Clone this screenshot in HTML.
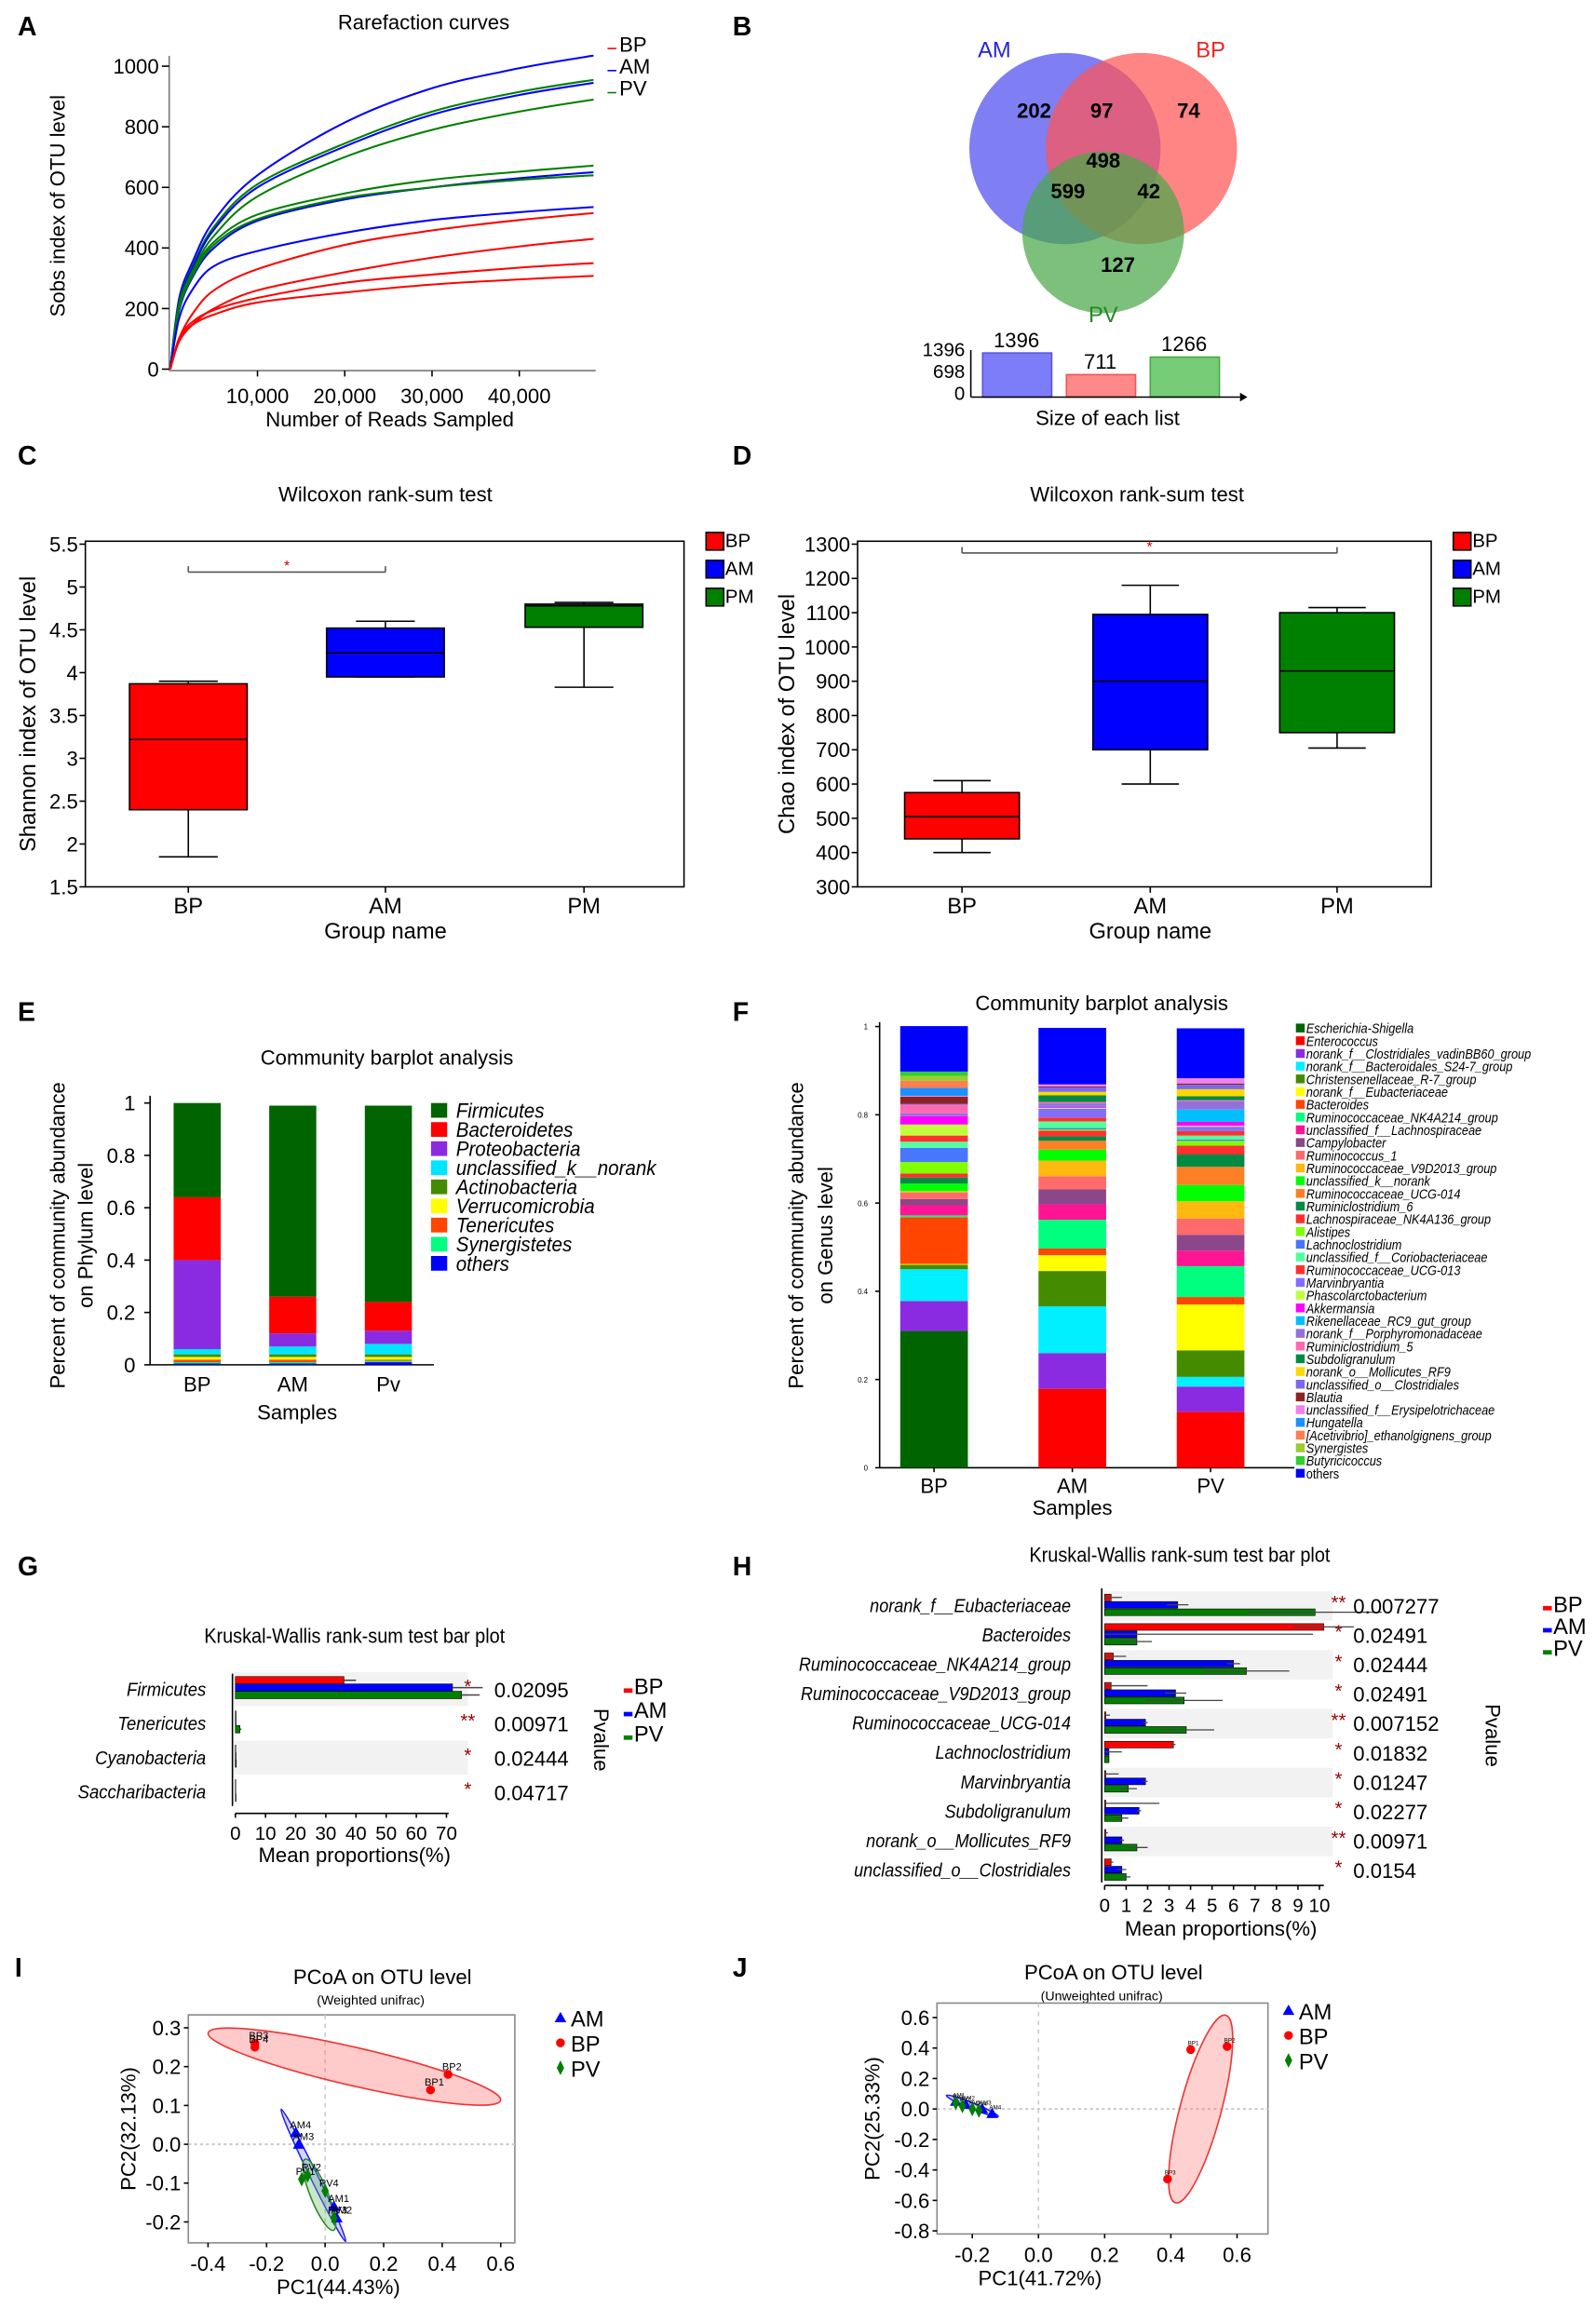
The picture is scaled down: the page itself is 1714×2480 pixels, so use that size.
<!DOCTYPE html>
<html><head><meta charset="utf-8">
<style>
html,body{margin:0;padding:0;background:#fff;}
svg{display:block;font-family:"Liberation Sans",Arial,sans-serif;}
</style></head>
<body>
<svg id="fig" xmlns="http://www.w3.org/2000/svg" width="1714" height="2480" viewBox="0 0 1085 1570"></svg>
<script>
// ---------- DATA ----------
// Panel A rarefaction
const rareDepths=[0,1000,2500,5000,10000,20000,30000,40000,48500];
const rareSeries=[
 {g:'AM',v:[0,230,350,490,640,814,927,993,1035]},
 {g:'PV',v:[0,220,335,470,610,745,850,915,955]},
 {g:'AM',v:[0,215,330,460,600,735,840,905,945]},
 {g:'PV',v:[0,210,320,440,570,700,790,850,890]},
 {g:'PV',v:[0,205,315,420,510,580,625,652,672]},
 {g:'AM',v:[0,190,300,400,490,560,600,630,650]},
 {g:'PV',v:[0,195,305,410,495,565,600,625,640]},
 {g:'AM',v:[0,165,260,340,390,450,492,518,535]},
 {g:'BP',v:[0,100,180,260,330,410,458,492,515]},
 {g:'BP',v:[0,90,145,200,260,320,368,405,430]},
 {g:'BP',v:[0,100,155,195,235,285,312,335,350]},
 {g:'BP',v:[0,95,145,180,220,253,279,296,308]}];
const rareYTicks=[0,200,400,600,800,1000];
const rareXTicks=[10000,20000,30000,40000];
const rareXLabels=['10,000','20,000','30,000','40,000'];
// Panel B
const vennNums=[202,97,74,498,599,42,127];
const listSizes=[1396,711,1266];
// Panel C / D box stats [lowWhisker,q1,median,q3,highWhisker]
const boxGroups=['BP','AM','PM'];
const shannonBox=[[1.85,2.4,3.22,3.87,3.9],[3.95,3.95,4.23,4.52,4.6],[3.83,4.53,4.78,4.8,4.82]];
const shannonTicks=[1.5,2,2.5,3,3.5,4,4.5,5,5.5];
const chaoBox=[[400,440,505,575,610],[600,700,900,1095,1180],[705,750,930,1100,1115]];
const chaoTicks=[300,400,500,600,700,800,900,1000,1100,1200,1300];
// Panel E phylum
const phyla=['Firmicutes','Bacteroidetes','Proteobacteria','unclassified_k__norank','Actinobacteria','Verrucomicrobia','Tenericutes','Synergistetes','others'];
const phylaColors=['#006400','#ff0000','#8a2be2','#00e5ff','#458b00','#ffff00','#ff4500','#00ff7f','#0000ff'];
const phySamples=['BP','AM','Pv'];
const phyBP=[0.36,0.24,0.34,0.02,0.01,0.01,0.01,0.005,0.005];
const phyAM=[0.73,0.14,0.05,0.03,0.01,0.01,0.01,0.005,0.005];
const phyPV=[0.75,0.11,0.05,0.04,0.01,0.01,0.005,0.005,0.01];
const phyTicks=[0,0.2,0.4,0.6,0.8,1];
// Panel F genus
const genera=['Escherichia-Shigella','Enterococcus','norank_f__Clostridiales_vadinBB60_group','norank_f__Bacteroidales_S24-7_group','Christensenellaceae_R-7_group','norank_f__Eubacteriaceae','Bacteroides','Ruminococcaceae_NK4A214_group','unclassified_f__Lachnospiraceae','Campylobacter','Ruminococcus_1','Ruminococcaceae_V9D2013_group','unclassified_k__norank','Ruminococcaceae_UCG-014','Ruminiclostridium_6','Lachnospiraceae_NK4A136_group','Alistipes','Lachnoclostridium','unclassified_f__Coriobacteriaceae','Ruminococcaceae_UCG-013','Marvinbryantia','Phascolarctobacterium','Akkermansia','Rikenellaceae_RC9_gut_group','norank_f__Porphyromonadaceae','Ruminiclostridium_5','Subdoligranulum','norank_o__Mollicutes_RF9','unclassified_o__Clostridiales','Blautia','unclassified_f__Erysipelotrichaceae','Hungatella','[Acetivibrio]_ethanolgignens_group','Synergistes','Butyricicoccus','others'];
const genusColors=['#006400','#ff0000','#8a2be2','#00f0ff','#458b00','#ffff00','#ff4500','#00ff7f','#ff1493','#8b4789','#ff6a6a','#ffb90f','#00ff00','#ff7f24','#008b45','#ff3030','#7fff00','#4876ff','#54ff9f','#ff3030','#836fff','#c0ff3e','#ff00ff','#00bfff','#9370db','#ff69b4','#008b45','#ffd700','#7b68ee','#8b2323','#ee82ee','#1e90ff','#ff7f50','#9acd32','#32cd32','#0000ff'];
const genSamples=['BP','AM','PV'];
const genBP=[0.31,0,0.068,0.072,0.01,0.002,0.106,0.004,0.023,0.014,0.015,0.003,0.017,0,0.014,0.009,0.026,0.032,0.014,0.014,0,0.025,0.019,0,0.006,0.02,0,0,0.002,0.016,0.002,0.018,0.016,0.011,0.01,0.103];
const genAM=[0,0.179,0.081,0.106,0.08,0.036,0.015,0.065,0.035,0.034,0.03,0.035,0.025,0.02,0.01,0.013,0.003,0.003,0.015,0.009,0.02,0.002,0.003,0.002,0.004,0.004,0.015,0.008,0.01,0.002,0.005,0,0,0,0,0.128];
const genPV=[0,0.127,0.057,0.022,0.06,0.104,0.017,0.07,0.035,0.036,0.037,0.039,0.037,0.041,0.028,0.02,0.011,0.003,0.009,0.01,0.01,0.002,0.009,0.028,0.019,0.002,0.009,0.016,0.01,0.003,0.012,0,0,0,0,0.113];
const genTicks=[0,0.2,0.4,0.6,0.8,1];
// Panel G
const gTaxa=['Firmicutes','Tenericutes','Cyanobacteria','Saccharibacteria'];
const gBP=[36,0.2,0.1,0.1];
const gAM=[72,0.2,0.2,0.1];
const gPV=[75,1.5,0.3,0.2];
const gErrBP=[4,0,0,0];const gErrAM=[10,0,0,0];const gErrPV=[6,0.5,0,0];
const gP=['0.02095','0.00971','0.02444','0.04717'];
const gStars=['*','**','*','*'];
const gTicks=[0,10,20,30,40,50,60,70];
// Panel H
const hTaxa=['norank_f__Eubacteriaceae','Bacteroides','Ruminococcaceae_NK4A214_group','Ruminococcaceae_V9D2013_group','Ruminococcaceae_UCG-014','Lachnoclostridium','Marvinbryantia','Subdoligranulum','norank_o__Mollicutes_RF9','unclassified_o__Clostridiales'];
const hBP=[0.3,10.2,0.4,0.3,0.05,3.2,0.05,0.05,0.05,0.3];
const hAM=[3.4,1.5,6.0,3.3,1.9,0.2,1.9,1.6,0.8,0.8];
const hPV=[9.8,1.5,6.6,3.7,3.8,0.2,1.1,0.8,1.5,1.0];
const hErrBP=[0.5,1.4,0.6,1.7,0.2,0.1,0.6,2.5,0.1,0.1];
const hErrAM=[0.5,8.2,0.3,0.5,0.1,0.6,0.1,0.1,0.1,0.2];
const hErrPV=[3.1,0.7,2.0,1.8,1.3,0,0.4,0.3,0.5,0.2];
const hP=['0.007277','0.02491','0.02444','0.02491','0.007152','0.01832','0.01247','0.02277','0.00971','0.0154'];
const hStars=['**','*','*','*','**','*','*','*','**','*'];
const hTicks=[0,1,2,3,4,5,6,7,8,9,10];
// Panel I PCoA weighted
const iX=[-0.24,-0.24,0.36,0.42,-0.1,-0.09,0.03,0.04,-0.08,-0.06,0.0,0.03];
const iY=[0.26,0.25,0.14,0.18,0.03,0.0,-0.16,-0.19,-0.09,-0.08,-0.12,-0.19];
const iGroup=['BP','BP','BP','BP','AM','AM','AM','AM','PV','PV','PV','PV'];
const iLab=['BP3','BP4','BP1','BP2','AM4','AM3','AM1','AM2','PV1','PV2','PV4','PV3'];
const iXTicks=[-0.4,-0.2,0,0.2,0.4,0.6];
const iYTicks=[-0.2,-0.1,0,0.1,0.2,0.3];
// Panel J PCoA unweighted
const jX=[0.46,0.57,0.39,-0.25,-0.22,-0.17,-0.14,-0.25,-0.23,-0.2,-0.18];
const jY=[0.39,0.41,-0.46,0.05,0.03,0.0,-0.03,0.04,0.02,0.0,-0.01];
const jGroup=['BP','BP','BP','AM','AM','AM','AM','PV','PV','PV','PV'];
const jLab=['BP1','BP2','BP3','AM1','AM2','AM3','AM4','PV1','PV2','PV3','PV4'];
const jXTicks=[-0.2,0,0.2,0.4,0.6];
const jYTicks=[-0.8,-0.6,-0.4,-0.2,0,0.2,0.4,0.6];

// ---------- helpers ----------
const NS='http://www.w3.org/2000/svg';
const svg=document.getElementById('fig');
const COL={BP:'#ff0000',AM:'#0000ff',PV:'#007f00',PM:'#007f00'};
function mk(tag,attrs,parent,name){
  const e=document.createElementNS(NS,tag);
  for(const k in attrs)e.setAttribute(k,attrs[k]);
  
  
  (parent||svg).appendChild(e);return e;
}
function txt(x,y,s,name,o){
  o=o||{};
  const a={x:x,y:y,'font-size':o.fs||14,fill:o.fill||'#000','text-anchor':o.anchor||'middle'};
  if(o.italic)a['font-style']='italic';
  if(o.bold)a['font-weight']='bold';
  if(o.rot!==undefined)a.transform='rotate('+o.rot+' '+x+' '+y+')';
  if(o.sx)a.transform='translate('+x+' '+y+') scale('+o.sx+' 1) translate('+(-x)+' '+(-y)+')';
  const t=mk('text',a,o.parent,name);t.textContent=s;return t;
}
function line(x1,y1,x2,y2,name,o){o=o||{};return mk('line',{x1:x1,y1:y1,x2:x2,y2:y2,stroke:o.stroke||'#000','stroke-width':o.w||1,'stroke-dasharray':o.dash||'none'},o.parent,name);}
function rect(x,y,w,h,fill,name,o){o=o||{};return mk('rect',{x:x,y:y,width:Math.max(0,w),height:Math.max(0,h),fill:fill,stroke:o.stroke||'none','stroke-width':o.w||1,opacity:o.op||1},o.parent,name);}
function smoothPath(pts){
  let d='M'+pts[0][0].toFixed(1)+' '+pts[0][1].toFixed(1);
  for(let i=0;i<pts.length-1;i++){
    const p0=pts[Math.max(0,i-1)],p1=pts[i],p2=pts[i+1],p3=pts[Math.min(pts.length-1,i+2)];
    const c1x=p1[0]+(p2[0]-p0[0])/6,c1y=p1[1]+(p2[1]-p0[1])/6;
    const c2x=p2[0]-(p3[0]-p1[0])/6,c2y=p2[1]-(p3[1]-p1[1])/6;
    d+=` C${c1x.toFixed(1)} ${c1y.toFixed(1)} ${c2x.toFixed(1)} ${c2y.toFixed(1)} ${p2[0].toFixed(1)} ${p2[1].toFixed(1)}`;
  }
  return d;
}

// panel letters
[['A',12,24],['B',498,24],['C',12,316],['D',498,316],['E',12,694],['F',498,694],['G',12,1071],['H',498,1071],['I',10,1344],['J',498,1344]].forEach(p=>{
  txt(p[1],p[2],p[0],'panel-label-'+p[0].toLowerCase(),{fs:18,bold:true,anchor:'start'});
});

// ---------- Panel A ----------
(function(){
  const g=mk('g',{},svg,'rarefaction-chart');
  const x=v=>115.7+v*0.005933, y=v=>251-v*0.206;
  txt(288,20,'Rarefaction curves','rarefaction-title',{fs:14,parent:g});
  line(115,38,115,252,'y-axis',{parent:g,stroke:'#777'});
  line(115,252,405,252,'x-axis',{parent:g,stroke:'#777'});
  rareYTicks.forEach(t=>{line(110,y(t),115,y(t),'y-tick',{parent:g});txt(108,y(t)+5,String(t),'y-tick-label',{fs:14,anchor:'end',parent:g});});
  rareXTicks.forEach((t,i)=>{line(x(t),252,x(t),256,'x-tick',{parent:g});txt(x(t),274,rareXLabels[i],'x-tick-label',{fs:14,parent:g});});
  txt(265,290,'Number of Reads Sampled','x-axis-title',{fs:14,parent:g});
  txt(44,140,'Sobs index of OTU level','y-axis-title',{fs:14,rot:-90,parent:g});
  rareSeries.forEach(s=>{
    const pts=s.v.map((v,i)=>[x(rareDepths[i]),y(v)]);
    mk('path',{d:smoothPath(pts),fill:'none',stroke:COL[s.g],'stroke-width':1.3,'stroke-linejoin':'round'},g,'rarefaction-curve-'+s.g.toLowerCase());
  });
  ['BP','AM','PV'].forEach((k,i)=>{
    line(413,33+i*15,419,33+i*15,'legend-swatch-'+k.toLowerCase(),{parent:g,stroke:COL[k]});
    txt(421,35+i*15,k,'legend-entry-'+k.toLowerCase(),{fs:14,anchor:'start',parent:g});
  });
})();

// ---------- Panel B ----------
(function(){
  const g=mk('g',{},svg,'venn-diagram');
  mk('circle',{cx:724,cy:101,r:65,fill:'#5f5ff0',opacity:0.8},g,'venn-circle-am');
  mk('circle',{cx:776,cy:101,r:65,fill:'#f55',opacity:0.72},g,'venn-circle-bp');
  mk('circle',{cx:750,cy:158,r:55,fill:'#4aa84a',opacity:0.72},g,'venn-circle-pv');
  txt(676,39,'AM','venn-label-am',{fs:15,fill:'#2222dd',parent:g});
  txt(823,39,'BP','venn-label-bp',{fs:15,fill:'#ee2222',parent:g});
  txt(750,219,'PV','venn-label-pv',{fs:15,fill:'#228822',parent:g});
  const pos=[[703,80],[749,80],[808,80],[750,114],[726,135],[781,135],[760,185]];
  vennNums.forEach((n,i)=>txt(pos[i][0],pos[i][1],String(n),'venn-count',{fs:14,bold:true,parent:g}));
  const cols=[['#7d7dfa','#5555dd'],['#f88','#e55'],['#7c7','#4a4']];
  const bx=[668,725,782], base=270, h=v=>v/1396*30;
  listSizes.forEach((v,i)=>{
    rect(bx[i],base-h(v),47,h(v),cols[i][0],'list-size-bar',{stroke:cols[i][1],parent:g});
    txt(bx[i]+23,base-h(v)-4,String(v),'list-size-value',{fs:14,parent:g});
  });
  line(660,238,660,270,'list-y-axis',{parent:g});
  line(660,270,843,270,'list-x-axis',{parent:g});
  mk('path',{d:'M843 267 L848 270 L843 273 Z',fill:'#000'},g,'list-axis-arrow');
  txt(656,242,'1396','list-tick',{fs:13,anchor:'end',parent:g});
  txt(656,257,'698','list-tick',{fs:13,anchor:'end',parent:g});
  txt(656,272,'0','list-tick',{fs:13,anchor:'end',parent:g});
  txt(753,289,'Size of each list','list-axis-title',{fs:14,parent:g});
})();

// ---------- Panels C/D box plots ----------
function boxPanel(o){
  const g=mk('g',{},svg,o.name);
  const y=v=>o.y0-(v-o.vmin)/(o.vmax-o.vmin)*(o.y0-o.y1);
  txt(o.titleX,341,'Wilcoxon rank-sum test','boxplot-title',{fs:14,parent:g});
  rect(o.fx0,o.ftop,o.fx1-o.fx0,o.y0-o.ftop,'none','plot-frame',{stroke:'#000',parent:g});
  o.ticks.forEach(t=>{line(o.fx0-4,y(t),o.fx0,y(t),'y-tick',{parent:g});txt(o.fx0-5,y(t)+5,String(t),'y-tick-label',{fs:14,anchor:'end',parent:g});});
  const cols=['#ff0000','#0000ff','#008000'];
  o.data.forEach((d,i)=>{
    const cx=o.cx[i],w=o.bw;
    line(cx,y(d[0]),cx,y(d[4]),'whisker',{parent:g});
    line(cx-w/4,y(d[0]),cx+w/4,y(d[0]),'whisker-cap',{parent:g});
    line(cx-w/4,y(d[4]),cx+w/4,y(d[4]),'whisker-cap',{parent:g});
    rect(cx-w/2,y(d[3]),w,y(d[1])-y(d[3]),cols[i],'box-'+boxGroups[i].toLowerCase(),{stroke:'#000',parent:g});
    line(cx-w/2,y(d[2]),cx+w/2,y(d[2]),'median-line',{parent:g});
    line(cx,o.y0,cx,o.y0+4,'x-tick',{parent:g});
    txt(cx,o.y0+18,boxGroups[i],'x-tick-label',{fs:15,parent:g});
  });
  txt(o.cx[1],o.y0+35,'Group name','x-axis-title',{fs:15,parent:g});
  txt(o.ylx,(o.ftop+o.y0)/2,o.ylab,'y-axis-title',{fs:15,rot:-90,parent:g});
  line(o.cx[0],o.sigY-4,o.cx[0],o.sigY,'sig-bracket',{parent:g,stroke:'#555'});
  line(o.cx[0],o.sigY,o.cx[o.sigTo],o.sigY,'sig-bracket',{parent:g,stroke:'#555'});
  line(o.cx[o.sigTo],o.sigY-4,o.cx[o.sigTo],o.sigY,'sig-bracket',{parent:g,stroke:'#555'});
  txt((o.cx[0]+o.cx[o.sigTo])/2,o.sigY-1,'*','sig-star',{fs:10,fill:'#d00',parent:g});
  boxGroups.forEach((k,i)=>{
    rect(o.lx,362+i*19,12,12,cols[i],'legend-swatch-'+k.toLowerCase(),{stroke:'#000',parent:g});
    txt(o.lx+13,372+i*19,k,'legend-entry-'+k.toLowerCase(),{fs:13,anchor:'start',parent:g});
  });
}
boxPanel({name:'shannon-boxplot',titleX:262,fx0:58,fx1:465,ftop:368,y0:603,y1:370,vmin:1.5,vmax:5.5,ticks:shannonTicks,data:shannonBox,cx:[128,262,397],bw:80,ylab:'Shannon index of OTU level',ylx:24,sigY:389,sigTo:1,lx:480});
boxPanel({name:'chao-boxplot',titleX:773,fx0:583,fx1:973,ftop:368,y0:603,y1:370,vmin:300,vmax:1300,ticks:chaoTicks,data:chaoBox,cx:[654,782,909],bw:78,ylab:'Chao index of OTU level',ylx:540,sigY:376,sigTo:2,lx:988});

// ---------- Panel E ----------
(function(){
  const g=mk('g',{},svg,'phylum-barplot');
  const y=v=>928-v*178;
  txt(263,724,'Community barplot analysis','phylum-title',{fs:14,parent:g});
  line(102,745,102,928,'y-axis',{parent:g});
  line(102,928,295,928,'x-axis',{parent:g});
  phyTicks.forEach(t=>{line(98,y(t),102,y(t),'y-tick',{parent:g});txt(92,y(t)+5,String(t),'y-tick-label',{fs:14,anchor:'end',parent:g});});
  const sets=[phyBP,phyAM,phyPV],bx=[118,183,248];
  sets.forEach((vals,s)=>{
    let acc=0;
    for(let i=vals.length-1;i>=0;i--){
      rect(bx[s],y(acc+vals[i]),32,y(acc)-y(acc+vals[i]),phylaColors[i],'stack-'+phySamples[s].toLowerCase()+'-segment',{parent:g});
      acc+=vals[i];
    }
    txt(bx[s]+16,946,phySamples[s],'x-tick-label',{fs:14,parent:g});
  });
  txt(202,965,'Samples','x-axis-title',{fs:14,parent:g});
  txt(44,840,'Percent of community abundance','y-axis-title',{fs:14,rot:-90,parent:g});
  txt(63,840,'on Phylum level','y-axis-title-2',{fs:14,rot:-90,parent:g});
  phyla.forEach((p,i)=>{
    rect(293,750+i*13,11,10,phylaColors[i],'legend-swatch',{parent:g});
    txt(310,760+i*13,p,'legend-entry',{fs:14,italic:true,anchor:'start',sx:0.93,parent:g});
  });
})();

// ---------- Panel F ----------
(function(){
  const g=mk('g',{},svg,'genus-barplot');
  const y=v=>998-v*300;
  txt(749,687,'Community barplot analysis','genus-title',{fs:14,parent:g});
  line(598,695,598,998,'y-axis',{parent:g});
  line(598,998,880,998,'x-axis',{parent:g});
  genTicks.forEach(t=>{line(595,y(t),598,y(t),'y-tick',{parent:g});txt(590,y(t)+2,String(t),'y-tick-label',{fs:5,anchor:'end',parent:g});});
  const sets=[genBP,genAM,genPV],bx=[612,706,800];
  sets.forEach((vals,s)=>{
    let acc=0;
    vals.forEach((v,i)=>{
      if(v>0)rect(bx[s],y(acc+v),46,y(acc)-y(acc+v),genusColors[i],'stack-'+genSamples[s].toLowerCase()+'-segment',{parent:g});
      acc+=v;
    });
    line(bx[s]+23,998,bx[s]+23,1001,'x-tick',{parent:g});
    txt(bx[s]+23,1015,genSamples[s],'x-tick-label',{fs:14,parent:g});
  });
  txt(729,1030,'Samples','x-axis-title',{fs:14,parent:g});
  txt(546,840,'Percent of community abundance','y-axis-title',{fs:14,rot:-90,parent:g});
  txt(566,840,'on Genus level','y-axis-title-2',{fs:14,rot:-90,parent:g});
  genera.forEach((n,i)=>{
    rect(881,696+i*8.65,6,6,genusColors[i],'legend-swatch',{parent:g});
    txt(888,702.5+i*8.65,n,'legend-entry',{fs:9.5,italic:n!=='others',anchor:'start',sx:0.85,parent:g});
  });
})();

// ---------- Panel G ----------
(function(){
  const g=mk('g',{},svg,'kruskal-phylum-plot');
  const x=v=>160+v*2.05, rowY=i=>1148+i*23.3;
  txt(241,1117,'Kruskal-Wallis rank-sum test bar plot','kw-phylum-title',{fs:14,sx:0.9,parent:g});
  gTaxa.forEach((t,i)=>{
    if(i%2===0)rect(158,rowY(i)-11,160,23,'#f2f2f2','row-stripe',{parent:g});
    txt(140,rowY(i)+5,t,'taxon-label',{fs:13,italic:true,anchor:'end',sx:0.9,parent:g});
    [[gBP,gErrBP,'#ff0000','bp'],[gAM,gErrAM,'#0000ff','am'],[gPV,gErrPV,'#008000','pv']].forEach((s,k)=>{
      const yy=rowY(i)-8+k*5;
      rect(160,yy,x(s[0][i])-160,5,s[2],'bar-'+s[3],{stroke:'#000',w:0.4,parent:g});
      if(s[1][i]>0)line(x(s[0][i]),yy+2.5,x(s[0][i]+s[1][i]),yy+2.5,'error-bar',{parent:g,stroke:'#444'});
    });
    txt(318,rowY(i)+3,gStars[i],'sig-star',{fs:13,fill:'#900',parent:g});
    txt(336,rowY(i)+6,gP[i],'p-value',{fs:14,anchor:'start',parent:g});
  });
  line(158,1138,158,1228,'y-axis',{parent:g});
  line(160,1233,305,1233,'x-axis',{parent:g});
  gTicks.forEach(t=>{line(x(t),1233,x(t),1236,'x-tick',{parent:g});txt(x(t),1251,String(t),'x-tick-label',{fs:13,parent:g});});
  txt(241,1266,'Mean proportions(%)','x-axis-title',{fs:14,parent:g});
  txt(404,1183,'Pvalue','pvalue-axis-title',{fs:14,rot:90,parent:g});
  [['BP','#ff0000'],['AM','#0000ff'],['PV','#008000']].forEach((l,i)=>{
    rect(424,1148+i*16,6,3,l[1],'legend-swatch-'+l[0].toLowerCase(),{parent:g});
    txt(431,1152+i*16,l[0],'legend-entry-'+l[0].toLowerCase(),{fs:15,anchor:'start',parent:g});
  });
})();

// ---------- Panel H ----------
(function(){
  const g=mk('g',{},svg,'kruskal-genus-plot');
  const x=v=>751+v*14.6, rowY=i=>1091+i*20;
  txt(802,1062,'Kruskal-Wallis rank-sum test bar plot','kw-genus-title',{fs:14,sx:0.9,parent:g});
  hTaxa.forEach((t,i)=>{
    if(i%2===0)rect(749,rowY(i)-9,157,20,'#f2f2f2','row-stripe',{parent:g});
    txt(728,rowY(i)+5,t,'taxon-label',{fs:13,italic:true,anchor:'end',sx:0.88,parent:g});
    [[hBP,hErrBP,'#ff0000','bp'],[hAM,hErrAM,'#0000ff','am'],[hPV,hErrPV,'#008000','pv']].forEach((s,k)=>{
      const yy=rowY(i)-7+k*5;
      rect(751,yy,x(s[0][i])-751,4.5,s[2],'bar-'+s[3],{stroke:'#000',w:0.4,parent:g});
      line(x(Math.max(0,s[0][i]-s[1][i])),yy+2.2,x(s[0][i]+s[1][i]),yy+2.2,'error-bar',{parent:g,stroke:'#444',w:0.8});
    });
    txt(910,rowY(i)+3,hStars[i],'sig-star',{fs:13,fill:'#900',parent:g});
    txt(920,rowY(i)+6,hP[i],'p-value',{fs:14,anchor:'start',parent:g});
  });
  line(749,1080,749,1280,'y-axis',{parent:g});
  line(751,1282,900,1282,'x-axis',{parent:g});
  hTicks.forEach(t=>{line(x(t),1282,x(t),1285,'x-tick',{parent:g});txt(x(t),1300,String(t),'x-tick-label',{fs:13,parent:g});});
  txt(830,1316,'Mean proportions(%)','x-axis-title',{fs:14,parent:g});
  txt(1010,1180,'Pvalue','pvalue-axis-title',{fs:14,rot:90,parent:g});
  [['BP','#ff0000'],['AM','#0000ff'],['PV','#008000']].forEach((l,i)=>{
    rect(1049,1092+i*15,6,3,l[1],'legend-swatch-'+l[0].toLowerCase(),{parent:g});
    txt(1056,1096+i*15,l[0],'legend-entry-'+l[0].toLowerCase(),{fs:15,anchor:'start',parent:g});
  });
})();

// ---------- PCoA panels ----------
function marker(g,grp,px,py,name){
  if(grp==='AM')mk('path',{d:`M${px} ${py-4} L${px+4} ${py+3} L${px-4} ${py+3} Z`,fill:'#0000ff'},g,name);
  else if(grp==='BP')mk('circle',{cx:px,cy:py,r:3,fill:'#ff0000'},g,name);
  else mk('path',{d:`M${px} ${py-5} L${px+2.5} ${py} L${px} ${py+5} L${px-2.5} ${py} Z`,fill:'#007f00'},g,name);
}
function pcoa(o){
  const g=mk('g',{},svg,o.name);
  const x=v=>o.x0+v*o.sx, y=v=>o.y0-v*o.sy;
  txt(o.tx,o.ty,'PCoA on OTU level','pcoa-title',{fs:14,parent:g});
  txt(o.tx-8,o.ty+14,o.sub,'pcoa-subtitle',{fs:9,parent:g});
  rect(o.fx0,o.fy0,o.fx1-o.fx0,o.fy1-o.fy0,'none','plot-frame',{stroke:'#888',parent:g});
  line(x(0),o.fy0,x(0),o.fy1,'zero-line-v',{parent:g,stroke:'#ccc',dash:'3 3'});
  line(o.fx0,y(0),o.fx1,y(0),'zero-line-h',{parent:g,stroke:'#ccc',dash:'2 2',w:1.3});
  o.xt.forEach(t=>{line(x(t),o.fy1,x(t),o.fy1+3,'x-tick',{parent:g});txt(x(t),o.fy1+19,t.toFixed(1),'x-tick-label',{fs:14,parent:g});});
  o.yt.forEach(t=>{line(o.fx0-3,y(t),o.fx0,y(t),'y-tick',{parent:g});txt(o.fx0-5,y(t)+5,t.toFixed(1),'y-tick-label',{fs:14,anchor:'end',parent:g});});
  txt(o.xlx,o.xly,o.xlab,'x-axis-title',{fs:14,parent:g});
  txt(o.ylx,(o.fy0+o.fy1)/2,o.ylab,'y-axis-title',{fs:14,rot:-90,parent:g});
  o.ell.forEach(e=>{
    const cx=x(e[0]),cy=y(e[1]);
    mk('ellipse',{cx:cx,cy:cy,rx:e[2],ry:e[3],transform:`rotate(${e[4]} ${cx} ${cy})`,fill:e[5],'fill-opacity':0.35,stroke:e[6],'stroke-width':1},g,'confidence-ellipse');
  });
  o.X.forEach((v,i)=>{
    marker(g,o.G[i],x(v),y(o.Y[i]),'point-'+o.L[i].toLowerCase());
    txt(x(v)+o.lo,y(o.Y[i])-3,o.L[i],'point-label',{fs:o.lfs,anchor:'start',parent:g});
  });
  [['AM'],['BP'],['PV']].forEach((l,i)=>{
    marker(g,l[0],o.lgx,o.lgy+i*17,'legend-marker-'+l[0].toLowerCase());
    txt(o.lgx+7,o.lgy+6+i*17,l[0],'legend-entry-'+l[0].toLowerCase(),{fs:15,anchor:'start',parent:g});
  });
}
pcoa({name:'pcoa-weighted',x0:221,sx:199,y0:1458,sy:264,tx:260,ty:1349,sub:'(Weighted unifrac)',fx0:128,fx1:350,fy0:1370,fy1:1525,
  xt:iXTicks,yt:iYTicks,xlab:'PC1(44.43%)',xlx:230,xly:1560,ylab:'PC2(32.13%)',ylx:92,
  ell:[[0.1,0.2,102,13,13,'#ff6666','#e33'],[-0.04,-0.08,50,2.5,64,'#8888ff','#2222ee'],[-0.02,-0.13,26,6,68,'#66bb66','#2a8a2a']],
  X:iX,Y:iY,G:iGroup,L:iLab,lo:-4,lfs:7,lgx:381,lgy:1372});
pcoa({name:'pcoa-unweighted',x0:706,sx:225,y0:1434,sy:103.6,tx:757,ty:1346,sub:'(Unweighted unifrac)',fx0:637,fx1:862,fy0:1362,fy1:1519,
  xt:jXTicks,yt:jYTicks,xlab:'PC1(41.72%)',xlx:707,xly:1554,ylab:'PC2(25.33%)',ylx:598,
  ell:[[0.49,0.0,66,14,-75,'#ff7777','#e33'],[-0.2,0.02,19,2,22,'#8888ff','#2222ee']],
  X:jX,Y:jY,G:jGroup,L:jLab,lo:-2,lfs:4,lgx:876,lgy:1367});
</script>
</body></html>
